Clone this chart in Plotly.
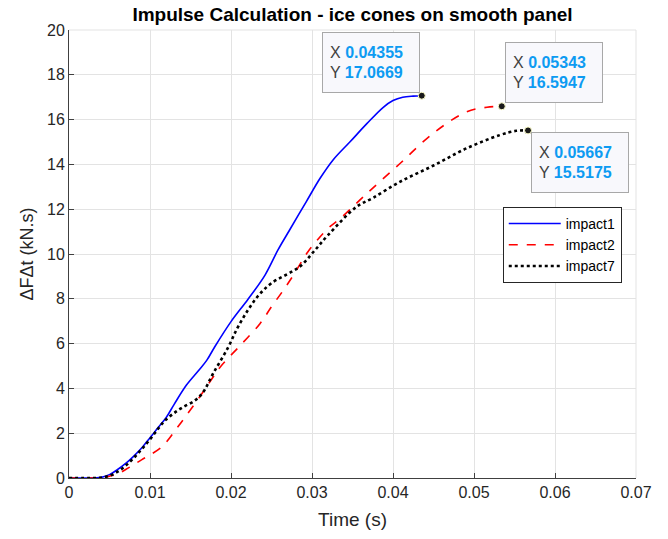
import plotly.graph_objects as go

impact1_t = [0, 0.002, 0.004, 0.005, 0.006, 0.007, 0.008, 0.009, 0.010, 0.011, 0.012, 0.013, 0.0145, 0.016, 0.017, 0.018, 0.020, 0.0221, 0.0242, 0.0258, 0.0272, 0.0293, 0.031, 0.0326, 0.0347, 0.0368, 0.0388, 0.0400, 0.0412, 0.0425, 0.04355]
impact1_y = [0, 0, 0.03, 0.15, 0.38, 0.65, 0.98, 1.35, 1.8, 2.25, 2.7, 3.3, 4.15, 4.8, 5.25, 5.86, 6.98, 7.98, 9.06, 10.18, 11.05, 12.34, 13.38, 14.2, 15.01, 15.83, 16.55, 16.85, 17.0, 17.05, 17.0669]

impact2_t = [0, 0.003, 0.004, 0.005, 0.006, 0.007, 0.008, 0.009, 0.010, 0.0115, 0.0133, 0.0145, 0.016, 0.0175, 0.0187, 0.0212, 0.0236, 0.025, 0.0263, 0.0277, 0.0295, 0.032, 0.0335, 0.0368, 0.0409, 0.045, 0.0491, 0.0516, 0.05343]
impact2_y = [0, 0, 0.02, 0.08, 0.18, 0.38, 0.6, 0.82, 1.03, 1.4, 2.22, 2.8, 3.55, 4.35, 4.97, 5.94, 6.9, 7.65, 8.3, 9.05, 10.1, 11.15, 11.59, 12.71, 14.05, 15.4, 16.35, 16.55, 16.5947]

impact7_t = [0, 0.003, 0.004, 0.005, 0.006, 0.007, 0.008, 0.009, 0.010, 0.011, 0.0118, 0.0128, 0.014, 0.0155, 0.0165, 0.0178, 0.0196, 0.0208, 0.0221, 0.0234, 0.025, 0.0275, 0.0287, 0.0302, 0.032, 0.0355, 0.0375, 0.0409, 0.045, 0.0491, 0.0532, 0.0552, 0.05667]
impact7_y = [0, 0, 0.02, 0.1, 0.28, 0.55, 0.9, 1.3, 1.72, 2.2, 2.55, 2.85, 3.15, 3.45, 3.8, 4.67, 5.8, 6.7, 7.5, 8.15, 8.7, 9.21, 9.5, 10.1, 10.85, 12.11, 12.5, 13.23, 13.95, 14.72, 15.31, 15.5, 15.5175]

series_names = ["impact1", "impact2", "impact7"]
series_colors = ["#0000ff", "#ff0000", "#000000"]
series_dash = ["solid", "dash", "dot"]
series_width = [1.6, 1.6, 2.6]

tips = [(0.04355, 17.0669), (0.05343, 16.5947), (0.05667, 15.5175)]
tip_anchor = [("right", "bottom", -2, 3), ("left", "bottom", 3, 3), ("left", "top", 3, -2)]

xticks = [0, 0.01, 0.02, 0.03, 0.04, 0.05, 0.06, 0.07]
xticklabels = ["0", "0.01", "0.02", "0.03", "0.04", "0.05", "0.06", "0.07"]
yticks = [0, 2, 4, 6, 8, 10, 12, 14, 16, 18, 20]

FONT = "Liberation Sans, Arial, Helvetica, sans-serif"

fig = go.Figure()
data = [(impact1_t, impact1_y), (impact2_t, impact2_y), (impact7_t, impact7_y)]
for (t, y), name, c, d, w in zip(data, series_names, series_colors, series_dash, series_width):
    fig.add_trace(go.Scatter(x=t, y=y, mode="lines", name=name,
                             line=dict(color=c, dash=d, width=w, shape="spline", smoothing=1.0)))

fig.add_trace(go.Scatter(x=[p[0] for p in tips], y=[p[1] for p in tips], mode="markers",
                         showlegend=False,
                         marker=dict(color="#1a1a1a", size=7, line=dict(color="#ffffcc", width=1))))

for (tx, ty), (xa, ya, xs, ys) in zip(tips, tip_anchor):
    fig.add_annotation(
        x=tx, y=ty, xref="x", yref="y", showarrow=False,
        xanchor=xa, yanchor=ya, xshift=xs, yshift=ys, align="left", valign="middle",
        text=(f"<span style='color:#404040'>X</span> <b><span style='color:#0d9bf2'>{tx:.5g}</span></b><br>"
              f"<span style='color:#404040'>Y</span> <b><span style='color:#0d9bf2'>{ty:.6g}</span></b>"),
        font=dict(family=FONT, size=16),
        width=82, height=45,
        bgcolor="#f8f8fc", bordercolor="#a8a8a8", borderwidth=1, borderpad=7,
    )

fig.update_layout(
    width=668, height=539,
    margin=dict(l=69, r=32, t=30, b=61),
    paper_bgcolor="white", plot_bgcolor="white",
    font=dict(family=FONT, size=16, color="#262626"),
    title=dict(text="<b>Impulse Calculation - ice cones on smooth panel</b>",
               x=0.5, xref="paper", xanchor="center", y=1 - 14 / 539, yanchor="middle",
               font=dict(family=FONT, size=19, color="#000000")),
    legend=dict(x=0.765, y=0.605, xanchor="left", yanchor="top",
                bgcolor="white", bordercolor="#262626", borderwidth=1,
                font=dict(family=FONT, size=14, color="#000000"),
                itemwidth=52, tracegroupgap=0),
    showlegend=True,
)

fig.update_xaxes(range=[0, 0.07], tickvals=xticks, ticktext=xticklabels,
                 showgrid=True, gridcolor="#e3e3e3", gridwidth=1,
                 showline=True, linecolor="#404040", linewidth=1,
                 ticks="inside", ticklen=5, tickcolor="#404040",
                 tickfont=dict(family=FONT, size=16, color="#262626"),
                 zeroline=False, mirror=False,
                 title=dict(text="Time (s)", font=dict(family=FONT, size=19, color="#262626"), standoff=12))
fig.update_yaxes(range=[0, 20], tickvals=yticks,
                 showgrid=True, gridcolor="#e3e3e3", gridwidth=1,
                 showline=True, linecolor="#404040", linewidth=1,
                 ticks="inside", ticklen=5, tickcolor="#404040",
                 tickfont=dict(family=FONT, size=16, color="#262626"),
                 zeroline=False, mirror=False,
                 title=dict(text="ΔFΔt (kN.s)", font=dict(family=FONT, size=18, color="#262626"), standoff=8))

fig.add_shape(type="line", xref="paper", yref="paper", x0=0, x1=1, y0=1, y1=1,
              line=dict(color="#e3e3e3", width=1), layer="below")
fig.add_shape(type="line", xref="paper", yref="paper", x0=1, x1=1, y0=0, y1=1,
              line=dict(color="#e3e3e3", width=1), layer="below")

fig.write_html("out.html")
